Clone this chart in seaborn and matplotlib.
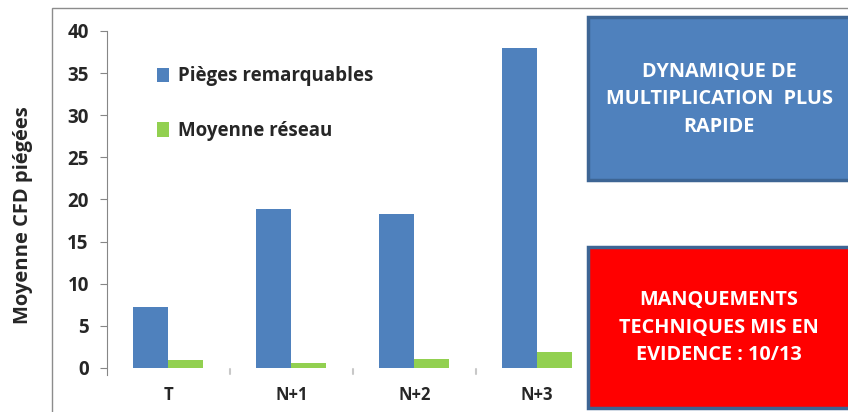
import numpy as np
import pandas as pd
import seaborn as sns
from matplotlib import pyplot as plt
from matplotlib.patches import Rectangle

# %% Data
Periods = ['T', 'N+1', 'N+2', 'N+3']
PiegesRemarq = [7.2, 18.9, 18.3, 38.0]
MoyReseau = [0.95, 0.6, 1.1, 1.9]
SeriesNames = ['Pièges remarquables', 'Moyenne réseau']
SeriesColors = ['#4F81BD', '#92D050']

dfData = pd.DataFrame({'Period': Periods * 2,
                       'Value': PiegesRemarq + MoyReseau,
                       'Serie': [SeriesNames[0]] * 4 + [SeriesNames[1]] * 4})

# %% Figure
sns.set_style('white')
plt.rcParams['font.family'] = ['Open Sans', 'DejaVu Sans']
plt.rcParams['font.weight'] = 'bold'

fig = plt.figure(figsize=(8.48, 4.12), dpi=100)
ax = fig.add_axes([0.126, 0.107, 0.58, 0.818])

sns.barplot(data=dfData, x='Period', y='Value', hue='Serie',
            palette=SeriesColors, width=0.57, gap=0, ax=ax,
            saturation=1, edgecolor='none')

ax.set_xlim(-0.5, 3.5)
ax.set_ylim(0, 40)
ax.set_yticks(np.arange(0, 41, 5))
ax.set_xlabel('')
ax.set_ylabel('Moyenne CFD piégées', fontsize=14.5, fontweight='bold')
ax.yaxis.set_label_coords(-0.150, 0.454)
ax.tick_params(axis='y', labelsize=13.5, length=5, width=0.8,
               color='#868686', direction='out', left=True, pad=8)
ax.tick_params(axis='x', labelsize=12, length=0, pad=13)
for lab in ax.get_xticklabels() + ax.get_yticklabels():
    lab.set_fontweight('bold')

for side in ['top', 'right', 'bottom']:
    ax.spines[side].set_visible(False)
ax.spines['left'].set_color('#868686')
ax.spines['left'].set_linewidth(0.8)
ax.spines['left'].set_bounds(-0.8, 40)

# category separators under the axis
for xs in [0.5, 1.5, 2.5]:
    ax.plot([xs, xs], [-0.1, -0.7], color='#C8C8C8', lw=1.5,
            clip_on=False)

leg = ax.legend(loc='upper left', bbox_to_anchor=(0.068, 0.945),
                frameon=False, fontsize=13.5, handlelength=0.65,
                handleheight=0.8, handletextpad=0.45, labelspacing=1.85)
for t in leg.get_texts():
    t.set_fontweight('bold')

# outer chart frame
fig.patches.append(Rectangle((52 / 848, -0.1), 1.0, 1 - 8 / 412 + 0.1,
                             transform=fig.transFigure, fill=False,
                             edgecolor='#8C8C8C', lw=1.0))

# annotation boxes
fig.patches.append(Rectangle((588 / 848, 1 - 180 / 412), 0.4, 163 / 412,
                             transform=fig.transFigure, facecolor='#4F81BD',
                             edgecolor='#3D6594', lw=2.5))
fig.text(719 / 848, 1 - 99 / 412,
         'DYNAMIQUE DE\nMULTIPLICATION  PLUS\nRAPIDE',
         ha='center', va='center', color='white', fontsize=14.3,
         fontweight='bold', linespacing=1.5)

fig.patches.append(Rectangle((588 / 848, 1 - 408 / 412), 0.4, 161 / 412,
                             transform=fig.transFigure, facecolor='#FF0000',
                             edgecolor='#3D6594', lw=2.5))
fig.text(719 / 848, 1 - 328 / 412,
         'MANQUEMENTS\nTECHNIQUES MIS EN\nEVIDENCE : 10/13',
         ha='center', va='center', color='white', fontsize=14.3,
         fontweight='bold', linespacing=1.5)

fig.savefig('out.png', dpi=100)
